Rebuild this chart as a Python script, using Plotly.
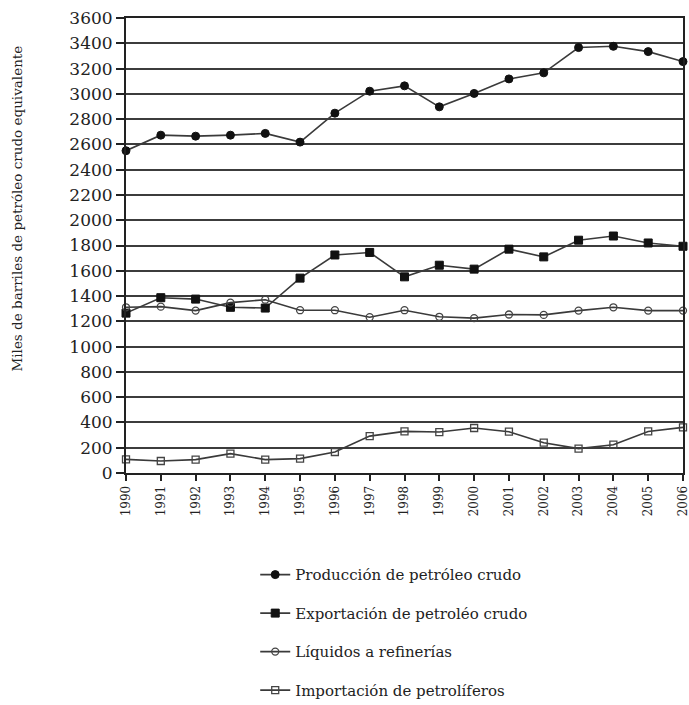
import plotly.graph_objects as go

years = list(range(1990, 2007))
produccion = [2550, 2673, 2665, 2673, 2687, 2618, 2847, 3021, 3063, 2897, 3003, 3118, 3166, 3366, 3376, 3334, 3255]
exportacion = [1265, 1387, 1376, 1311, 1305, 1542, 1725, 1745, 1552, 1644, 1613, 1771, 1710, 1842, 1875, 1820, 1794]
liquidos = [1311, 1316, 1285, 1348, 1371, 1288, 1288, 1233, 1288, 1236, 1225, 1254, 1251, 1285, 1311, 1285, 1285]
importacion = [108, 95, 106, 153, 106, 114, 166, 292, 329, 324, 356, 327, 240, 193, 224, 329, 361]

names = ["Producción de petróleo crudo", "Exportación de petroléo crudo",
         "Líquidos a refinerías", "Importación de petrolíferos"]
ytitle = "Miles de barriles de petróleo crudo equivalente"

FONT = "DejaVu Serif"
LC = "#3a3a3a"

series = [
    (produccion, dict(symbol="circle", size=8, color="#111", line=dict(color="#111", width=1))),
    (exportacion, dict(symbol="square", size=8, color="#111", line=dict(color="#111", width=1))),
    (liquidos, dict(symbol="circle-open", size=7, color="#444", line=dict(color="#444", width=1.3))),
    (importacion, dict(symbol="square-open", size=7, color="#444", line=dict(color="#444", width=1.3))),
]

fig = go.Figure()
for i, ((vals, mk), nm) in enumerate(zip(series, names)):
    fig.add_trace(go.Scatter(
        x=years, y=vals, name=nm, mode="lines+markers",
        line=dict(color=LC, width=1.6), marker=mk, cliponaxis=False,
        legendgroup=f"g{i}"))

fig.add_annotation(text=ytitle, xref="paper", yref="paper", x=-0.195, y=0.582,
                   xanchor="center", yanchor="middle", textangle=-90, showarrow=False,
                   font=dict(family=FONT, size=13.5, color="#222"))

fig.update_layout(
    width=689, height=705,
    margin=dict(l=126, r=6, t=18, b=232, autoexpand=False),
    paper_bgcolor="white", plot_bgcolor="white",
    font=dict(family=FONT, color="#222"),
    showlegend=True,
    legend=dict(x=0.232, xref="paper", y=0.208, yref="container",
                xanchor="left", yanchor="top",
                orientation="v", font=dict(family=FONT, size=15, color="#222"),
                tracegroupgap=16, bgcolor="rgba(0,0,0,0)"),
    xaxis=dict(range=[1990, 2006], tickmode="array", tickvals=years,
               ticktext=[str(y) for y in years], tickangle=-90,
               ticks="outside", ticklen=6, tickwidth=1.5, tickcolor="#222",
               showline=True, linecolor="#222", linewidth=2, mirror=True,
               showgrid=False, zeroline=False, ticklabeloverflow="allow",
               tickfont=dict(family=FONT, size=12, color="#222")),
    yaxis=dict(range=[0, 3600], tickmode="linear", tick0=0, dtick=200,
               ticks="outside", ticklen=8, tickwidth=1.5, tickcolor="#222",
               showline=True, linecolor="#222", linewidth=2, mirror=True,
               showgrid=True, gridcolor="#3c3c3c", gridwidth=1.8,
               zeroline=False,
               tickfont=dict(family=FONT, size=17, color="#222")),
)

fig.write_html("out.html", config={"displayModeBar": False},
               post_script="document.body.style.margin='0';document.body.style.overflow='hidden';")
